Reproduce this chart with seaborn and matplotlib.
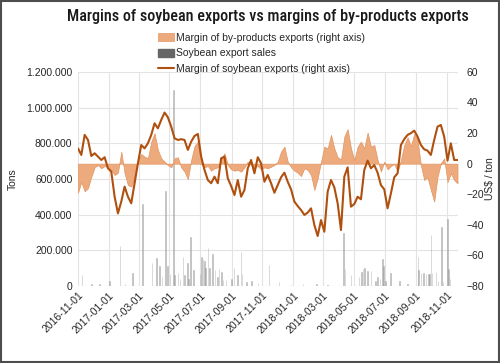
import numpy as np
import pandas as pd
import matplotlib
matplotlib.use("Agg")
import matplotlib.pyplot as plt
import matplotlib.dates as mdates
from matplotlib.patches import Patch, Rectangle
from matplotlib.lines import Line2D
from matplotlib.ticker import FuncFormatter, MultipleLocator
from matplotlib import font_manager
import seaborn as sns

# margins, read every ~6.6 days from 2016-11-01 to 2018-11-22 (US$/ton)
margin_start = "2016-11-01"
margin_end = "2018-11-22"
soy_margin = [
    10, 5.7, 18.8, 15.5, 5, 6.8, 4.6, 2.4, 4.2, -3, -5.2, -21.6, -32.5, -24.8, -15,
    -21.6, -25.9, -12.8, 0.2, 12.2, 10, 13.3, 18.8, 26.4, 23.1, 28.6, 33.4, 30.3, 24.2, 16.6,
    15.5, 16, 15.5, 9, 14.4, 18.1, 19.4, 4.6, -4.1, -10.7, -12.8, -8.5, -12.8, 3.5, 4.6,
    -9.6, -14.6, -20.5, -10.7, -21.6, -17.2, -3, 2.4, -6.3, 4.2, 0.2, -11.8, -7.4, -12.8, -19,
    -14, -8.9, -5.9, -11.8, -16.8, -24.8, -27.7, -30.3, -33.5, -32, -29.2, -40.1, -47.3, -36.9, -44.5,
    -18.3, -10.7, -15.5, -25.9, -43.4, -8.5, -2.4, -28.1, -26.4, -21.6, -23.3, -4.1, 2, -3, -0.9,
    -5.9, -14, -16.8, -29.2, -19.4, -8.9, -6.3, 12.2, 16, 18.8, 19.9, 21.6, 17.7, 12.2, 9.4,
    8.5, 5.7, 15.5, 24.2, 25.3, 17.7, 2, 13.3, 2.4, 2.4,
]
byproduct_margin = [
    -19, -12, -18, -16, -8.5, -2.4, -0.9, -3, -1.5, -2.4, -4.1, -7.4, -5.9, 7.9, -6.3,
    -14, -15, -8.5, 2.4, 6.3, 4.6, 3.5, 14.4, 19.9, 9, 3.5, 1.3, -0.9, -2.4, 3.5,
    4.2, -2.4, -5.2, -10.2, 2.4, 11.5, 14.4, -0.2, -2.4, -1.5, -4.6, -3, -2.4, 2.4, 6.8,
    -0.9, -3.7, -4.6, -4.1, -5.2, -2.4, 1.3, -0.9, -2.4, -1.5, -3.7, -2.4, -3, -2, -0.9,
    1.3, 7.9, 11.1, 1.3, -2.4, -4.6, -5.9, -8.1, -3, -4.1, -7.4, -17.2, -9.6, 1.3, 11.1,
    10, 18.8, 10, 4.2, 2.8, 17.7, 22.5, 10, 2.4, 11.1, 14.4, 10, 20.3, 11.1, 12.2,
    2.4, -5.2, 1.3, -3.7, -1.5, -0.2, -5.2, 2.4, 12.2, 17.2, 11.5, 19.4, 15.5, -0.9, -10.7,
    -8.9, -17.2, -24.8, -8.5, 0.2, 3.5, -12, -6.3, -10.7, -12.8,
]

# soybean export sales (tons)
sales_dates = [
    "2016-11-09", "2016-11-28", "2016-12-14", "2017-01-02", "2017-01-23", "2017-02-02",
    "2017-02-17", "2017-03-09", "2017-03-27", "2017-04-05", "2017-04-11", "2017-04-16",
    "2017-04-23", "2017-04-27", "2017-05-02", "2017-05-09", "2017-05-11", "2017-05-18",
    "2017-05-22", "2017-05-28", "2017-05-31", "2017-06-06", "2017-06-08", "2017-06-12",
    "2017-06-18", "2017-06-30", "2017-07-03", "2017-07-06", "2017-07-09", "2017-07-11",
    "2017-07-16", "2017-07-19", "2017-07-25", "2017-07-30", "2017-08-04", "2017-08-07",
    "2017-08-12", "2017-08-15", "2017-08-21", "2017-09-01", "2017-09-06", "2017-09-13",
    "2017-09-20", "2017-09-22", "2017-09-30", "2017-10-10", "2017-10-23", "2017-11-14",
    "2017-12-04", "2017-12-28", "2018-01-20", "2018-02-16", "2018-03-10", "2018-04-10",
    "2018-04-13", "2018-04-25", "2018-05-11", "2018-05-16", "2018-05-19", "2018-05-22",
    "2018-05-28", "2018-06-04", "2018-06-13", "2018-06-17", "2018-06-22", "2018-06-27",
    "2018-06-29", "2018-07-03", "2018-07-12", "2018-07-30", "2018-08-15", "2018-09-05",
    "2018-09-06", "2018-09-11", "2018-09-16", "2018-09-21", "2018-09-26", "2018-09-28",
    "2018-10-01", "2018-10-03", "2018-10-10", "2018-10-14", "2018-10-21", "2018-10-24",
    "2018-11-02", "2018-11-04", "2018-11-07",
]
sales_tons = [
    62000, 12000, 10000, 30000, 224000, 12000,
    71000, 460000, 130000, 155000, 110000, 50000,
    533000, 112000, 70000, 1100000, 60000, 75000,
    40000, 165000, 60000, 127000, 40000, 277000,
    90000, 70000, 164000, 150000, 140000, 100000,
    211000, 100000, 179000, 90000, 50000, 95000,
    80000, 35000, 35000, 40000, 100000, 60000,
    192000, 70000, 25000, 30000, 15000, 118000,
    24000, 8000, 10000, 10000, 8000, 300000,
    93000, 62000, 50000, 80000, 95000, 99000,
    85000, 85000, 30000, 50000, 40000, 150000,
    110000, 30000, 71000, 30000, 10000, 160000,
    90000, 75000, 75000, 65000, 70000, 65000,
    286000, 75000, 80000, 30000, 333000, 25000,
    376000, 95000, 40000,
]

title = "Margins of soybean exports vs margins of by-products exports"
label_byproduct = "Margin of by-products exports (right axis)"
label_sales = "Soybean export sales"
label_soy = "Margin of soybean exports (right axis)"

margin_dates = pd.date_range(margin_start, margin_end, periods=len(soy_margin))
sales_dt = pd.to_datetime(sales_dates)

sns.set_theme(style="white")
plt.rcParams["font.family"] = ["Liberation Sans", "DejaVu Sans"]

# pick a narrow face for the title if one is around
installed = {f.name for f in font_manager.fontManager.ttflist}
title_family = "Roboto"
title_size = 10
for name, size in [("Roboto Condensed", 11.6), ("Liberation Sans Narrow", 12)]:
    if name in installed:
        title_family, title_size = name, size
        break

area_color = "#EDAA7C"
line_color = "#B0500F"
bar_color = "#9A9A9A"

fig = plt.figure(figsize=(5.0, 3.63), dpi=100)
ax = fig.add_axes([0.156, 0.212, 0.76, 0.59])
ax2 = ax.twinx()

# bars on the left axis
ax.bar(sales_dt, sales_tons, width=1.0, color=bar_color, edgecolor=bar_color,
       linewidth=0.4, alpha=0.65)
ax.set_ylim(0, 1200000)
ax.yaxis.set_major_locator(MultipleLocator(200000))
ax.yaxis.set_major_formatter(FuncFormatter(lambda v, p: f"{int(v):,}".replace(",", ".")))
ax.grid(True, axis="both", color="#E3E3E3", linewidth=0.8)
ax.set_ylabel("Tons", fontsize=7.5, labelpad=6)

# margins on the right axis
ax2.fill_between(margin_dates, 0, byproduct_margin, color=area_color,
                 edgecolor="#E39460", linewidth=0.5)
sns.lineplot(x=margin_dates, y=soy_margin, ax=ax2, color=line_color, linewidth=1.5)
ax2.set_ylim(-80, 60)
ax2.yaxis.set_major_locator(MultipleLocator(20))
ax2.set_ylabel("US$ / ton", fontsize=7.5, labelpad=1)
ax2.grid(False)

ax.set_xlim(pd.Timestamp("2016-11-01"), pd.Timestamp("2018-11-23"))
ax.xaxis.set_major_locator(mdates.MonthLocator(bymonth=[1, 3, 5, 7, 9, 11]))
ax.xaxis.set_major_formatter(mdates.DateFormatter("%Y-%m-%d"))
for lab in ax.get_xticklabels():
    lab.set_rotation(45)
    lab.set_ha("right")
    lab.set_rotation_mode("anchor")

for a in (ax, ax2):
    a.tick_params(axis="both", labelsize=7.5, length=0, colors="#262626", pad=4)
    for s in a.spines.values():
        s.set_visible(False)
ax.tick_params(axis="x", pad=3)
ax2.tick_params(axis="y", pad=6)

fig.suptitle(title, x=0.535, y=0.975, fontsize=title_size,
             family=[title_family, "DejaVu Sans"], fontweight="medium",
             color="#1A1A1A")

handles = [
    Patch(facecolor=area_color, edgecolor="#E39460", linewidth=0.5),
    Patch(facecolor="#666666", edgecolor="#666666"),
    Line2D([0], [0], color=line_color, linewidth=1.5),
]
fig.legend(handles, [label_byproduct, label_sales, label_soy], loc="upper left",
           bbox_to_anchor=(0.315, 0.91), frameon=False, fontsize=7.5,
           handlelength=1.6, handleheight=0.8, handletextpad=0.2, labelspacing=0.55,
           borderaxespad=0, borderpad=0)

fig.patches.append(Rectangle((0.002, 0.003), 0.996, 0.994, transform=fig.transFigure,
                             fill=False, edgecolor="#4D4D4D", linewidth=1.5))

fig.savefig("out.png", dpi=100)
